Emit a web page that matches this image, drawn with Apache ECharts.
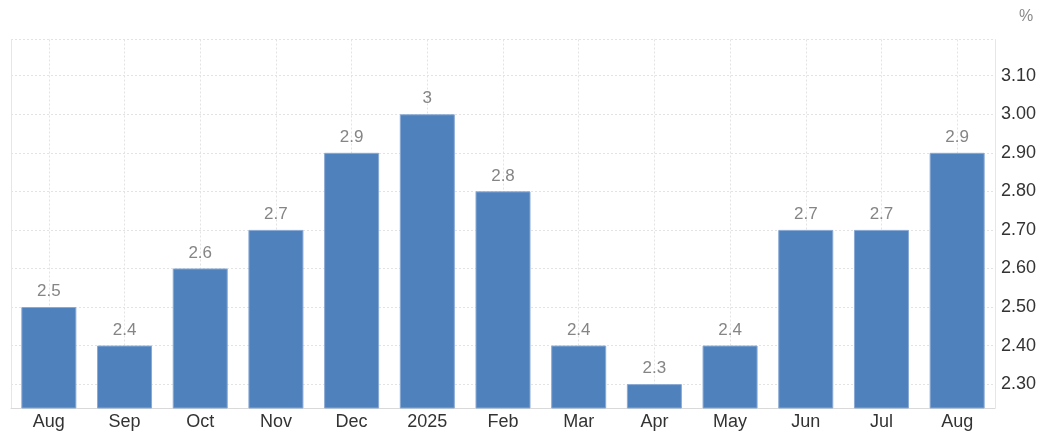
<!DOCTYPE html>
<html>
<head>
<meta charset="utf-8">
<script src="https://cdn.jsdelivr.net/npm/echarts@6/dist/echarts.min.js"></script>
<style>
html,body{margin:0;padding:0;background:#fff;}
#chart{width:1047px;height:444px;}
</style>
</head>
<body>
<div id="chart"></div>
<script>
const categories = ['Aug','Sep','Oct','Nov','Dec','2025','Feb','Mar','Apr','May','Jun','Jul','Aug'];
const values = [2.5, 2.4, 2.6, 2.7, 2.9, 3, 2.8, 2.4, 2.3, 2.4, 2.7, 2.7, 2.9];
const yTickLabels = [2.3, 2.4, 2.5, 2.6, 2.7, 2.8, 2.9, 3.0, 3.1];
const yMin = 2.238;
const yMax = 3.194;
const unitLabel = '%';

const categoryIndexes = categories.map((_, i) => i);
const chart = echarts.init(document.getElementById('chart'), null, {renderer: 'canvas'});
const gridLineStyle = {color: '#e3e3e3', type: [2, 2], width: 1};
chart.setOption({
  animation: false,
  backgroundColor: '#ffffff',
  title: {
    text: unitLabel, left: 1014, top: 4,
    textStyle: {color: '#8a8a8a', fontSize: 16, fontWeight: 'normal', fontFamily: 'Liberation Sans'}
  },
  grid: {left: 11, right: 52, top: 39.5, bottom: 36, containLabel: false},
  xAxis: [
    {
      type: 'category',
      data: categories,
      boundaryGap: true,
      axisLine: {show: true, onZero: false, lineStyle: {color: '#d9d9d9', width: 1}},
      axisTick: {show: false},
      splitLine: {show: false},
      axisLabel: {color: '#333333', fontSize: 18, fontFamily: 'Liberation Sans', margin: 5}
    },
    {
      type: 'value', position: 'bottom',
      min: -0.5, max: categories.length - 0.5,
      axisLine: {show: false, onZero: false},
      axisTick: {show: false, customValues: categoryIndexes},
      axisLabel: {show: false, customValues: categoryIndexes},
      splitLine: {show: true, lineStyle: gridLineStyle}
    }
  ],
  yAxis: [
    {
      type: 'value', position: 'right', min: yMin, max: yMax,
      axisLine: {show: true, onZero: false, lineStyle: {color: '#e6e6e6', width: 1}},
      axisTick: {show: false, customValues: yTickLabels.concat([yMax])},
      splitLine: {show: true, lineStyle: gridLineStyle},
      axisLabel: {
        customValues: yTickLabels,
        color: '#333333', fontSize: 18, fontFamily: 'Liberation Sans', margin: 6,
        padding: [0, 0, 6, 0],
        formatter: v => v.toFixed(2)
      }
    },
    {
      type: 'value', position: 'left', min: yMin, max: yMax,
      axisLine: {show: true, onZero: false, lineStyle: {color: '#e6e6e6', width: 1}},
      axisTick: {show: false}, splitLine: {show: false}, axisLabel: {show: false}
    }
  ],
  series: [{
    type: 'bar',
    xAxisIndex: 0,
    yAxisIndex: 0,
    data: values,
    barWidth: 55,
    itemStyle: {color: '#4f81bd', borderColor: '#89a9d4', borderWidth: 1},
    label: {
      show: true, position: 'top', distance: 7,
      color: '#858585', fontSize: 17, fontFamily: 'Liberation Sans',
      formatter: p => String(p.value)
    }
  }]
});
</script>
</body>
</html>
